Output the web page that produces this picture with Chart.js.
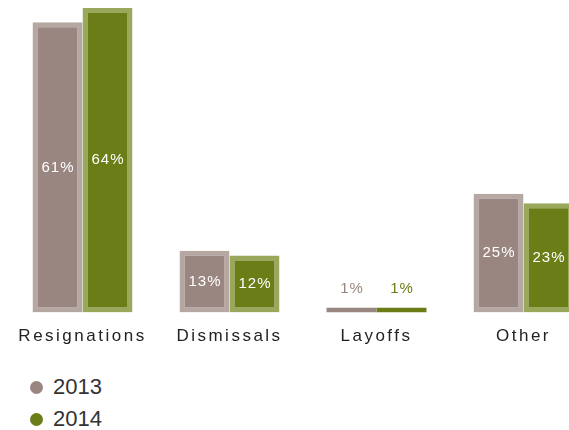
<!DOCTYPE html>
<html>
<head>
<meta charset="utf-8">
<script src="https://cdn.jsdelivr.net/npm/chart.js@4"></script>
<style>
  html, body { margin: 0; padding: 0; background: #fff; overflow: hidden; width: 569px; height: 430px; }
  #wrap { position: absolute; left: 0; top: 0; width: 600px; height: 361px; }
  #legend { position: absolute; left: 30px; top: 371px; font-family: "Liberation Sans", Arial, sans-serif; font-size: 22px; color: #333; }
  .item { display: flex; align-items: center; height: 32px; }
  .dot { width: 13px; height: 13px; border-radius: 50%; margin-right: 10px; }
</style>
</head>
<body>
<div id="wrap"><canvas id="c"></canvas></div>
<div id="legend"></div>
<script>
// Reasons for leaving, share of departures per year
const categories = ['Resignations', 'Dismissals', 'Layoffs', 'Other'];
const years = ['2013', '2014'];
const values2013 = [61, 13, 1, 25];
const values2014 = [64, 12, 1, 23];

const fillColors = ['#9a8680', '#6a7d16'];
const edgeColors = ['#b5a7a2', '#99a85b'];
const series = [values2013, values2014];

// Percent labels: inside tall bars in white, above very short bars in the bar colour
const valueLabels = {
  id: 'valueLabels',
  afterDatasetsDraw(chart) {
    const ctx = chart.ctx;
    ctx.save();
    ctx.letterSpacing = '1px';
    ctx.font = '15px "Liberation Sans", Arial, sans-serif';
    ctx.textAlign = 'center';
    ctx.textBaseline = 'middle';
    chart.data.datasets.forEach((ds, i) => {
      chart.getDatasetMeta(i).data.forEach((bar, j) => {
        const v = ds.data[j];
        const text = v + '%';
        if (v < 5) {
          ctx.fillStyle = fillColors[i];
          ctx.fillText(text, bar.x + 0.5, bar.y - 19);
        } else {
          ctx.fillStyle = '#ffffff';
          ctx.fillText(text, bar.x + 0.5, (bar.y + bar.base) / 2);
        }
      });
    });
    ctx.restore();
  }
};

// Wider tracking for the category names
const tickSpacing = {
  id: 'tickSpacing',
  beforeDraw(chart) { chart.ctx.letterSpacing = '2.5px'; },
  beforeDatasetsDraw(chart) { chart.ctx.letterSpacing = '0px'; }
};

new Chart(document.getElementById('c'), {
  type: 'bar',
  data: {
    labels: categories,
    datasets: years.map((y, i) => ({
      label: y,
      data: series[i],
      backgroundColor: fillColors[i],
      borderColor: edgeColors[i],
      borderWidth: (c) => (c.raw < 5 ? 0 : 5),
      borderSkipped: false,
      categoryPercentage: 0.68,
      barPercentage: 1.0
    }))
  },
  options: {
    responsive: true,
    maintainAspectRatio: false,
    animation: false,
    layout: { padding: { left: 9, right: 3, top: 0, bottom: 0 } },
    scales: {
      x: {
        grid: { display: false, drawTicks: false },
        border: { display: false },
        ticks: { color: '#222', padding: 14, font: { family: '"Liberation Sans", Arial, sans-serif', size: 17 } }
      },
      y: { display: false, min: 0, max: 65.7 }
    },
    plugins: { legend: { display: false }, tooltip: { enabled: false } }
  },
  plugins: [valueLabels, tickSpacing]
});

// Vertical legend under the chart
const legend = document.getElementById('legend');
years.forEach((y, i) => {
  const item = document.createElement('div');
  item.className = 'item';
  const dot = document.createElement('span');
  dot.className = 'dot';
  dot.style.background = fillColors[i];
  const txt = document.createElement('span');
  txt.textContent = y;
  item.appendChild(dot);
  item.appendChild(txt);
  legend.appendChild(item);
});
</script>
</body>
</html>
